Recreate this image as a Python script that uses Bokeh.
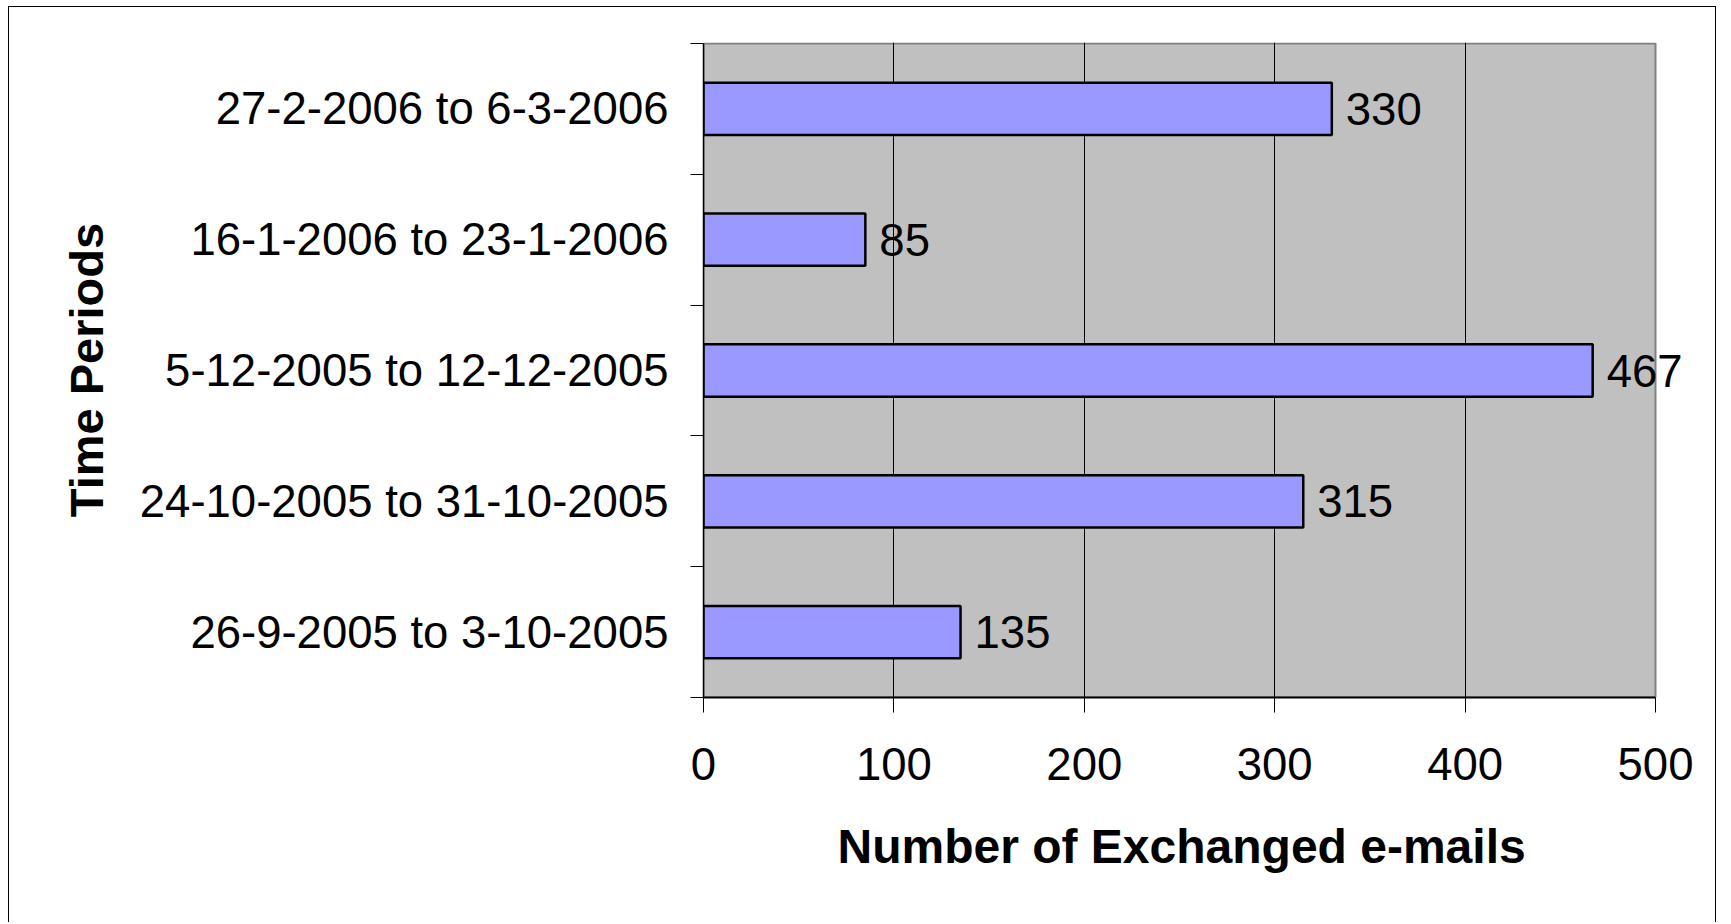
from bokeh.plotting import figure
from bokeh.models import FixedTicker, ColumnDataSource, Label, Range1d, Title
from bokeh.embed import file_html
from bokeh.resources import INLINE

# ---- data ----
periods = [
    "26-9-2005 to 3-10-2005",
    "24-10-2005 to 31-10-2005",
    "5-12-2005 to 12-12-2005",
    "16-1-2006 to 23-1-2006",
    "27-2-2006 to 6-3-2006",
]
emails = [135, 315, 467, 85, 330]
x_ticks = [0, 100, 200, 300, 400, 500]

FONT = "Liberation Sans"

# ---- layout geometry (pixels) ----
W, H = 1708, 916
LEFT, RIGHT, TOP, BOTTOM = 694, 4, 35, 226
PLOT_W = 952           # pixel width of the 0..500 area
PLOT_H = 654           # pixel height of the 5 bands
x_lo, x_hi = x_ticks[0], x_ticks[-1]
frame_w = W - LEFT - RIGHT
x_end = x_lo + (x_hi - x_lo) * frame_w / PLOT_W
n = len(periods)
frame_h = H - TOP - BOTTOM
y_end = n * frame_h / PLOT_H

ypos = [i + 0.5 for i in range(n)]
src = ColumnDataSource(dict(y=ypos, v=emails))

p = figure(
    width=W, height=H,
    x_range=Range1d(x_lo, x_end), y_range=Range1d(0, y_end),
    output_backend="svg", toolbar_location=None,
    min_border_left=LEFT, min_border_right=RIGHT,
    min_border_top=TOP, min_border_bottom=BOTTOM,
)
p.styles = {"border-top": "1px solid #000000", "border-left": "1px solid #000000",
            "border-right": "1px solid #000000",
            "margin-left": "8px", "margin-top": "6px"}

p.background_fill_color = "white"
p.border_fill_color = "white"
p.outline_line_color = None

# plot area (grey box with grey border), below the grid
p.quad(left=[x_lo], right=[x_hi], bottom=[0], top=[n],
       fill_color="#C0C0C0", line_color="#808080", line_width=2, level="image")

p.hbar(y="y", right="v", left=0, height=0.4, source=src,
       fill_color="#9999FF", line_color="black", line_width=2.5)

for yv, v in zip(ypos, emails):
    p.add_layout(Label(x=v, y=yv, text=str(v), x_offset=14,
                       text_align="left", text_baseline="middle",
                       text_font=FONT, text_font_size="45.5px",
                       text_color="black"))

# x axis
p.xaxis.ticker = FixedTicker(ticks=x_ticks)
p.xaxis.bounds = (x_lo, x_hi)
p.xaxis.major_label_text_font = FONT
p.xaxis.major_label_text_font_size = "45.5px"
p.xaxis.major_label_text_color = "black"
p.xaxis.major_label_standoff = 35
p.xaxis.major_tick_out = 15
p.xaxis.major_tick_in = 0
p.xaxis.minor_tick_out = 0
p.xaxis.minor_tick_in = 0
p.xaxis.axis_line_color = "black"
p.xaxis.axis_line_width = 2
p.xaxis.major_tick_line_color = "black"

p.add_layout(Title(text="Number of Exchanged e-mails", align="left", offset=134,
                   text_font=FONT, text_font_size="48px", text_font_style="bold",
                   text_color="black", standoff=70), "below")

# y axis: labels at band centres, ticks at band boundaries
p.yaxis.ticker = FixedTicker(ticks=ypos, minor_ticks=list(range(n + 1)))
p.yaxis.bounds = (0, n)
p.yaxis.major_label_overrides = {y: lab for y, lab in zip(ypos, periods)}
p.yaxis.axis_label = "Time Periods"
p.yaxis.axis_label_text_font = FONT
p.yaxis.axis_label_text_font_style = "bold"
p.yaxis.axis_label_text_font_size = "47px"
p.yaxis.axis_label_text_color = "black"
p.yaxis.axis_label_standoff = 24
p.yaxis.major_label_text_font = FONT
p.yaxis.major_label_text_font_size = "45.5px"
p.yaxis.major_label_text_color = "black"
p.yaxis.major_label_standoff = 22
p.yaxis.major_tick_out = 0
p.yaxis.major_tick_in = 0
p.yaxis.minor_tick_out = 13
p.yaxis.minor_tick_in = 0
p.yaxis.minor_tick_line_color = "black"
p.yaxis.axis_line_color = "black"
p.yaxis.axis_line_width = 1.5

# grid
p.xgrid.ticker = FixedTicker(ticks=x_ticks[1:-1])
p.xgrid.bounds = (0, n)
p.xgrid.grid_line_color = "black"
p.xgrid.grid_line_width = 1
p.ygrid.grid_line_color = None

open("out.html", "w").write(file_html(p, INLINE))
